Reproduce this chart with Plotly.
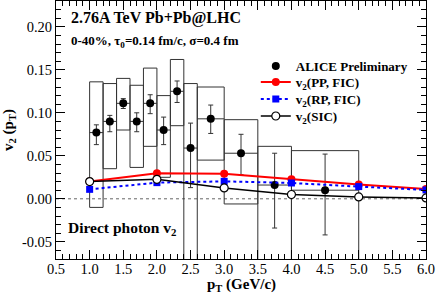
import plotly.graph_objects as go

# ALICE preliminary data
alice_pt = [1.1, 1.3, 1.5, 1.7, 1.9, 2.1, 2.3, 2.5, 2.8, 3.25, 3.75, 4.5]
alice_v2 = [0.077, 0.090, 0.111, 0.090, 0.111, 0.080, 0.125, 0.059, 0.093, 0.053, 0.016, 0.010]
alice_top = [0.086, 0.097, 0.1165, 0.100, 0.121, 0.095, 0.137, 0.088, 0.109, 0.075, 0.053, 0.052]
alice_bot = [0.063, 0.078, 0.105, 0.078, 0.099, 0.063, 0.112, 0.013, 0.076, 0.028, -0.034, -0.042]
alice_xerr = [0.1, 0.1, 0.1, 0.1, 0.1, 0.1, 0.1, 0.1, 0.2, 0.25, 0.25, 0.5]

# systematic boxes
sys_xlo = [1.0, 1.2, 1.4, 1.6, 1.8, 2.0, 2.2, 2.4, 2.6, 3.0, 3.5, 4.0]
sys_xhi = [1.2, 1.4, 1.6, 1.8, 2.0, 2.2, 2.4, 2.6, 3.0, 3.5, 4.0, 5.0]
sys_hi = [0.136, 0.134, 0.140, 0.132, 0.152, 0.120, 0.162, 0.134, 0.130, 0.092, 0.061, 0.056]
sys_lo = [-0.010, 0.035, 0.080, 0.0365, 0.061, 0.025, 0.085, -0.10, 0.045, -0.006, -0.10, -0.10]

# model curves
model_pt = [1.0, 2.0, 3.0, 4.0, 5.0, 6.0]
pp_fic = [0.020, 0.0296, 0.029, 0.0226, 0.0165, 0.0115]
rp_fic = [0.011, 0.0188, 0.0203, 0.0184, 0.0142, 0.0103]
sic = [0.020, 0.0226, 0.0126, 0.005, 0.0022, 0.001]

x_ticks = [0.5, 1.0, 1.5, 2.0, 2.5, 3.0, 3.5, 4.0, 4.5, 5.0, 5.5, 6.0]
y_ticks = [-0.05, 0.00, 0.05, 0.10, 0.15, 0.20]

SERIF = "Liberation Serif, Times New Roman, serif"

fig = go.Figure()

# boxes
for xl, xh, lo, hi in zip(sys_xlo, sys_xhi, sys_lo, sys_hi):
    fig.add_shape(type="rect", xref="x", yref="y", x0=xl, x1=xh, y0=lo, y1=hi,
                  line=dict(color="#333333", width=1), fillcolor="rgba(0,0,0,0)", layer="below")

# zero line
fig.add_shape(type="line", xref="paper", yref="y", x0=0, x1=1, y0=0, y1=0,
              line=dict(color="#666666", width=1, dash="dot"), layer="below")

fig.add_trace(go.Scatter(
    x=alice_pt, y=alice_v2, mode="markers", name="<b>ALICE Preliminary</b>", legend="legend",
    marker=dict(color="black", size=8, symbol="circle"),
    error_y=dict(type="data", symmetric=False,
                 array=[t - v for t, v in zip(alice_top, alice_v2)],
                 arrayminus=[v - b for v, b in zip(alice_v2, alice_bot)],
                 color="#333333", thickness=1, width=2.5),
    error_x=dict(type="data", array=alice_xerr, color="#333333", thickness=1, width=0),
))

fig.add_trace(go.Scatter(
    x=model_pt, y=pp_fic, mode="lines+markers", name="<b>v<sub>2</sub>(PP, FIC)</b>", legend="legend2",
    line=dict(color="#ff0000", width=2),
    marker=dict(color="#ff0000", size=8, symbol="circle"),
))
fig.add_trace(go.Scatter(
    x=model_pt, y=rp_fic, mode="lines+markers", name="<b>v<sub>2</sub>(RP, FIC)</b>", legend="legend3",
    line=dict(color="#0000ff", width=2, dash="dot"),
    marker=dict(color="#0000ff", size=7, symbol="square"),
))
fig.add_trace(go.Scatter(
    x=model_pt, y=sic, mode="lines+markers", name="<b>v<sub>2</sub>(SIC)</b>", legend="legend4",
    line=dict(color="black", width=1.5),
    marker=dict(color="white", size=8, symbol="circle", line=dict(color="black", width=1.2)),
))

fig.add_annotation(x=0.036, y=0.975, xref="paper", yref="paper", xanchor="left", yanchor="top",
                   text="<b>2.76A TeV Pb+Pb@LHC</b>", showarrow=False,
                   font=dict(family=SERIF, size=16, color="black"))
fig.add_annotation(x=0.036, y=0.885, xref="paper", yref="paper", xanchor="left", yanchor="top",
                   text="<b>0-40%, τ<sub>0</sub>=0.14 fm/c, σ=0.4 fm</b>", showarrow=False,
                   font=dict(family=SERIF, size=13, color="black"))
fig.add_annotation(x=0.027, y=0.12, xref="paper", yref="paper", xanchor="left", yanchor="middle",
                   text="<b>Direct photon v<sub>2</sub></b>", showarrow=False,
                   font=dict(family=SERIF, size=15.5, color="black"))
# x-axis title
fig.add_annotation(x=0.5, y=-37.0 / 258, xref="paper", yref="paper", xanchor="center", yanchor="bottom",
                   text="<b>p<sub>T</sub> (GeV/c)</b>", showarrow=False,
                   font=dict(family=SERIF, size=15, color="black"))

axis_common = dict(
    showline=True, linecolor="black", linewidth=1, mirror="allticks",
    ticks="inside", ticklen=9, tickcolor="black", tickwidth=1,
    showgrid=False, zeroline=False,
    tickfont=dict(family=SERIF, size=14.5, color="black"),
)

fig.update_xaxes(range=[0.5, 6.0], tickvals=x_ticks, ticktext=[f"{v:.1f}" for v in x_ticks],
                 minor=dict(dtick=0.1, tick0=0.5, ticks="inside", ticklen=5, tickcolor="black", showgrid=False),
                 ticklabelstandoff=-3,
                 **axis_common)
fig.update_yaxes(range=[-0.07, 0.23], tickvals=y_ticks, ticktext=[f"{v:.2f}" for v in y_ticks],
                 minor=dict(dtick=0.01, tick0=0, ticks="inside", ticklen=5, tickcolor="black", showgrid=False),
                 title=dict(text="<b>v<sub>2</sub> (p<sub>T</sub>)</b>", font=dict(family=SERIF, size=15, color="black"), standoff=4),
                 **axis_common)

leg_common = dict(x=0.54, xanchor="left", yanchor="middle",
                  bgcolor="rgba(0,0,0,0)", borderwidth=0,
                  font=dict(family=SERIF, size=13, color="black"), itemwidth=30)

fig.update_layout(
    width=436, height=296,
    margin=dict(l=56, r=10, t=1, b=37),
    paper_bgcolor="white", plot_bgcolor="white",
    showlegend=True,
    legend=dict(y=0.748, **leg_common),
    legend2=dict(y=0.686, **leg_common),
    legend3=dict(y=0.620, **leg_common),
    legend4=dict(y=0.554, **leg_common),
)

fig.write_html("out.html", config={"displayModeBar": False},
               post_script="document.body.style.margin='0';document.body.style.overflow='hidden';")
